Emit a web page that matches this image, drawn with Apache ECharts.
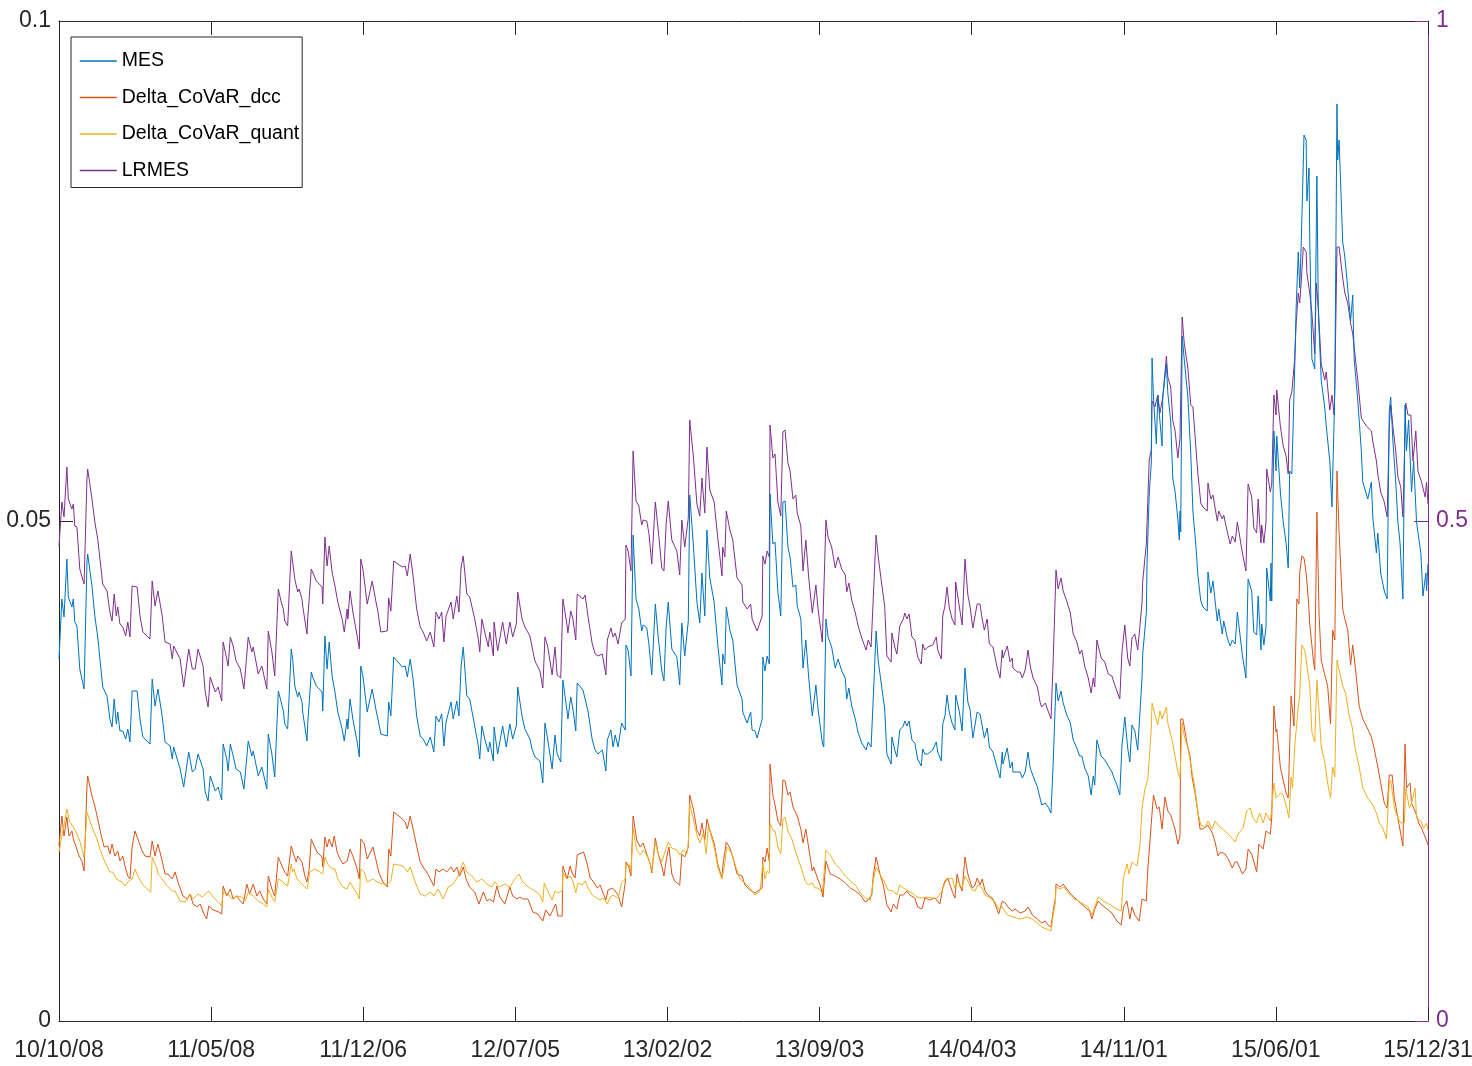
<!DOCTYPE html>
<html><head><meta charset="utf-8">
<script src="https://cdn.jsdelivr.net/npm/echarts@6/dist/echarts.min.js"></script>
<style>html,body{margin:0;padding:0;background:#fff}#chart{width:1472px;height:1066px}</style>
</head><body><div id="chart"></div>
<script>
// x values: calendar days since 2010-10-08; last day 2015-12-31
const spanDays = 1910;
const tickLabels = ['10/10/08','11/05/08','11/12/06','12/07/05','13/02/02','13/09/03','14/04/03','14/11/01','15/06/01','15/12/31'];
const seriesNames = ['MES','Delta_CoVaR_dcc','Delta_CoVaR_quant','LRMES'];

const mes = [[0,0.0362],[4,0.0422],[7,0.0404],[11,0.0462],[13,0.0424],[18,0.0414],[20,0.0422],[22,0.0399],[25,0.0395],[29,0.0352],[35,0.0332],[39,0.0459],[40,0.0467],[46,0.0435],[50,0.0405],[54,0.0384],[61,0.0334],[67,0.0325],[71,0.0302],[74,0.0294],[77,0.0322],[80,0.0297],[82,0.0309],[85,0.0290],[89,0.0290],[93,0.0282],[96,0.0292],[99,0.0279],[102,0.0330],[109,0.0330],[113,0.0302],[117,0.0284],[127,0.0277],[130,0.0342],[134,0.0315],[138,0.0332],[144,0.0305],[148,0.0279],[155,0.0275],[158,0.0262],[160,0.0274],[169,0.0252],[174,0.0234],[181,0.0269],[186,0.0249],[190,0.0252],[194,0.0267],[201,0.0252],[204,0.0229],[208,0.0220],[211,0.0245],[218,0.0230],[222,0.0234],[227,0.0221],[229,0.0277],[234,0.0262],[236,0.0250],[239,0.0277],[243,0.0265],[247,0.0252],[253,0.0249],[258,0.0232],[264,0.0280],[269,0.0265],[271,0.0270],[278,0.0245],[283,0.0254],[290,0.0232],[292,0.0287],[297,0.0267],[301,0.0244],[306,0.0330],[310,0.0319],[313,0.0310],[315,0.0297],[319,0.0292],[324,0.0372],[326,0.0362],
[329,0.0335],[333,0.0324],[335,0.0329],[339,0.0319],[340,0.0309],[346,0.0280],[347,0.0297],[352,0.0349],[354,0.0344],[359,0.0335],[367,0.0329],[368,0.0310],[371,0.0385],[374,0.0352],[377,0.0379],[381,0.0345],[385,0.0329],[389,0.0309],[395,0.0292],[398,0.0280],[402,0.0302],[403,0.0292],[406,0.0322],[410,0.0302],[416,0.0279],[419,0.0264],[421,0.0355],[424,0.0345],[430,0.0309],[437,0.0332],[442,0.0312],[445,0.0302],[449,0.0287],[458,0.0285],[460,0.0319],[463,0.0305],[467,0.0364],[479,0.0354],[483,0.0355],[486,0.0344],[490,0.0362],[494,0.0342],[499,0.0305],[504,0.0285],[508,0.0282],[513,0.0275],[518,0.0284],[523,0.0269],[526,0.0305],[530,0.0299],[534,0.0307],[537,0.0275],[540,0.0299],[547,0.0319],[550,0.0302],[555,0.0320],[558,0.0305],[561,0.0355],[564,0.0374],[569,0.0325],[573,0.0322],[580,0.0295],[585,0.0275],[587,0.0262],[590,0.0295],[594,0.0282],[599,0.0269],[601,0.0279],[606,0.0260],[607,0.0294],[612,0.0267],[619,0.0295],[624,0.0274],[629,0.0297],[633,0.0282],[638,0.0295],[640,0.0334],[646,0.0305],[650,0.0292],[657,0.0282],
[660,0.0272],[664,0.0264],[671,0.0260],[675,0.0238],[678,0.0298],[682,0.0281],[688,0.0252],[692,0.0286],[695,0.0267],[700,0.0259],[703,0.0341],[709,0.0309],[710,0.0302],[714,0.0324],[717,0.0312],[721,0.0290],[723,0.0338],[731,0.0331],[734,0.0322],[738,0.0310],[744,0.0281],[748,0.0271],[752,0.0267],[758,0.0271],[763,0.0250],[765,0.0281],[770,0.0291],[773,0.0274],[776,0.0286],[780,0.0274],[785,0.0298],[790,0.0291],[791,0.0376],[794,0.0371],[798,0.0345],[801,0.0486],[805,0.0422],[809,0.0412],[813,0.0390],[815,0.0396],[820,0.0393],[823,0.0377],[827,0.0346],[832,0.0417],[836,0.0384],[841,0.0350],[844,0.0340],[847,0.0393],[850,0.0419],[855,0.0372],[862,0.0364],[866,0.0336],[869,0.0398],[873,0.0365],[878,0.0400],[880,0.0526],[885,0.0477],[890,0.0419],[894,0.0398],[897,0.0448],[901,0.0405],[904,0.0491],[908,0.0443],[914,0.0419],[919,0.0377],[925,0.0336],[926,0.0367],[929,0.0357],[931,0.0414],[936,0.0391],[940,0.0381],[946,0.0336],[953,0.0322],[954,0.0309],[960,0.0298],[965,0.0309],[967,0.0291],[971,0.0290],[974,0.0283],[981,0.0302],[982,0.0364],[985,0.0350],
[988,0.0365],[991,0.0357],[992,0.0527],[996,0.0477],[999,0.0479],[1003,0.0429],[1007,0.0405],[1010,0.0519],[1013,0.0520],[1017,0.0474],[1020,0.0464],[1024,0.0434],[1028,0.0436],[1030,0.0415],[1035,0.0402],[1038,0.0353],[1042,0.0381],[1046,0.0343],[1051,0.0305],[1053,0.0303],[1056,0.0336],[1059,0.0312],[1065,0.0278],[1067,0.0274],[1070,0.0402],[1073,0.0384],[1078,0.0374],[1083,0.0353],[1087,0.0362],[1092,0.0350],[1097,0.0343],[1099,0.0322],[1102,0.0333],[1106,0.0315],[1111,0.0302],[1115,0.0288],[1120,0.0278],[1126,0.0271],[1129,0.0279],[1133,0.0274],[1136,0.0322],[1140,0.0390],[1143,0.0360],[1148,0.0333],[1152,0.0312],[1155,0.0267],[1161,0.0257],[1162,0.0284],[1166,0.0271],[1169,0.0264],[1173,0.0291],[1178,0.0295],[1180,0.0300],[1183,0.0295],[1186,0.0300],[1190,0.0281],[1194,0.0278],[1198,0.0262],[1203,0.0255],[1205,0.0272],[1208,0.0267],[1212,0.0267],[1219,0.0271],[1224,0.0279],[1226,0.0269],[1231,0.0260],[1233,0.0297],[1236,0.0305],[1239,0.0326],[1242,0.0309],[1246,0.0298],[1250,0.0291],[1251,0.0326],[1256,0.0310],[1260,0.0290],[1264,0.0353],[1268,0.0319],[1271,0.0312],[1275,0.0283],[1281,0.0309],[1285,0.0307],[1288,0.0295],[1291,0.0283],[1295,0.0293],[1298,0.0274],[1303,0.0269],[1309,0.0253],[1313,0.0243],
[1316,0.0269],[1317,0.0257],[1323,0.0273],[1327,0.0253],[1330,0.0259],[1331,0.0249],[1337,0.0249],[1341,0.0249],[1344,0.0243],[1348,0.0249],[1352,0.0269],[1355,0.0253],[1359,0.0245],[1365,0.0234],[1369,0.0222],[1371,0.0216],[1376,0.0218],[1380,0.0214],[1384,0.0208],[1387,0.0257],[1388,0.0255],[1391,0.0338],[1394,0.0320],[1398,0.0330],[1401,0.0318],[1406,0.0306],[1411,0.0298],[1415,0.0281],[1420,0.0273],[1424,0.0265],[1427,0.0265],[1431,0.0253],[1436,0.0245],[1440,0.0226],[1443,0.0245],[1445,0.0236],[1448,0.0281],[1454,0.0265],[1459,0.0261],[1464,0.0255],[1469,0.0249],[1472,0.0243],[1476,0.0236],[1480,0.0226],[1483,0.0275],[1487,0.0304],[1491,0.0273],[1494,0.0259],[1497,0.0296],[1501,0.0290],[1505,0.0271],[1511,0.0343],[1512,0.0367],[1517,0.0408],[1518,0.0457],[1519,0.0481],[1521,0.0526],[1524,0.0559],[1525,0.0663],[1527,0.0624],[1529,0.0600],[1531,0.0577],[1533,0.0626],[1536,0.0600],[1539,0.0575],[1540,0.0624],[1545,0.0657],[1547,0.0628],[1551,0.0600],[1554,0.0542],[1557,0.0530],[1561,0.0502],[1563,0.0481],[1564,0.0510],[1565,0.0489],[1567,0.0685],[1570,0.0661],[1575,0.0624],[1579,0.0567],[1582,0.0510],[1586,0.0477],[1589,0.0445],[1593,0.0420],[1596,0.0414],[1602,0.0410],[1603,0.0449],[1607,0.0428],[1610,0.0440],[1616,0.0400],[1618,0.0412],[1623,0.0387],[1625,0.0400],[1630,0.0383],[1634,0.0375],[1637,0.0381],[1641,0.0377],
[1644,0.0409],[1651,0.0366],[1656,0.0343],[1659,0.0442],[1664,0.0430],[1667,0.0389],[1671,0.0386],[1673,0.0425],[1677,0.0371],[1678,0.0397],[1681,0.0376],[1684,0.0394],[1685,0.0453],[1690,0.0420],[1691,0.0458],[1692,0.0420],[1695,0.0590],[1698,0.0550],[1699,0.0585],[1704,0.0529],[1708,0.0499],[1712,0.0478],[1715,0.0453],[1717,0.0550],[1720,0.0547],[1724,0.0652],[1726,0.0713],[1729,0.0769],[1731,0.0733],[1733,0.0774],[1737,0.0886],[1740,0.0881],[1741,0.0820],[1744,0.0853],[1745,0.0784],[1748,0.0662],[1752,0.0652],[1755,0.0845],[1757,0.0708],[1761,0.0641],[1766,0.0613],[1768,0.0595],[1773,0.0560],[1776,0.0514],[1779,0.0601],[1780,0.0631],[1783,0.0917],[1784,0.0861],[1786,0.0881],[1791,0.0779],[1794,0.0764],[1798,0.0733],[1802,0.0700],[1805,0.0726],[1807,0.0662],[1812,0.0621],[1817,0.0570],[1819,0.0539],[1826,0.0522],[1831,0.0539],[1833,0.0504],[1838,0.0468],[1840,0.0488],[1844,0.0448],[1849,0.0430],[1853,0.0422],[1856,0.0611],[1858,0.0624],[1861,0.0580],[1865,0.0539],[1868,0.0499],[1871,0.0478],[1875,0.0422],[1878,0.0616],[1880,0.0570],[1883,0.0601],[1887,0.0529],[1890,0.0560],[1894,0.0499],[1900,0.0468],[1903,0.0425],[1907,0.0448],[1908,0.0430],[1910,0.0457]];

const covarDcc = [[0,0.0175],[4,0.0205],[7,0.0185],[11,0.0204],[14,0.0185],[18,0.0190],[20,0.0182],[24,0.0174],[28,0.0165],[32,0.0160],[35,0.0150],[39,0.0235],[40,0.0245],[46,0.0225],[50,0.0215],[54,0.0202],[60,0.0182],[63,0.0174],[68,0.0175],[71,0.0167],[74,0.0177],[78,0.0165],[82,0.0170],[85,0.0160],[89,0.0165],[93,0.0152],[96,0.0145],[99,0.0142],[102,0.0174],[106,0.0190],[110,0.0182],[116,0.0170],[120,0.0165],[127,0.0164],[130,0.0180],[134,0.0165],[138,0.0177],[144,0.0160],[148,0.0147],[152,0.0147],[158,0.0142],[162,0.0149],[166,0.0139],[173,0.0125],[179,0.0122],[183,0.0127],[187,0.0117],[193,0.0114],[197,0.0117],[201,0.0109],[206,0.0102],[209,0.0115],[213,0.0112],[219,0.0110],[223,0.0109],[227,0.0107],[229,0.0135],[234,0.0125],[239,0.0132],[243,0.0122],[248,0.0125],[253,0.0120],[257,0.0117],[262,0.0137],[266,0.0127],[271,0.0137],[276,0.0125],[280,0.0130],[285,0.0122],[290,0.0117],[292,0.0145],[297,0.0132],[301,0.0125],[306,0.0164],[311,0.0155],[315,0.0149],[319,0.0145],[324,0.0175],[326,0.0170],
[331,0.0159],[333,0.0165],[339,0.0159],[343,0.0145],[346,0.0139],[349,0.0152],[352,0.0182],[356,0.0175],[360,0.0169],[367,0.0164],[368,0.0154],[371,0.0184],[374,0.0174],[377,0.0182],[381,0.0174],[384,0.0185],[388,0.0169],[392,0.0162],[396,0.0157],[402,0.0160],[406,0.0172],[410,0.0165],[416,0.0152],[419,0.0142],[421,0.0182],[426,0.0177],[430,0.0162],[438,0.0174],[442,0.0162],[446,0.0149],[452,0.0139],[458,0.0134],[460,0.0172],[463,0.0165],[467,0.0209],[476,0.0204],[483,0.0199],[486,0.0192],[490,0.0205],[494,0.0192],[499,0.0175],[504,0.0159],[508,0.0154],[513,0.0149],[518,0.0142],[523,0.0135],[526,0.0152],[530,0.0149],[536,0.0152],[541,0.0149],[547,0.0154],[551,0.0149],[555,0.0154],[559,0.0145],[564,0.0154],[568,0.0142],[573,0.0134],[580,0.0129],[586,0.0117],[592,0.0129],[597,0.0120],[601,0.0122],[606,0.0119],[611,0.0135],[615,0.0124],[622,0.0117],[629,0.0134],[633,0.0125],[639,0.0122],[643,0.0124],[647,0.0122],[654,0.0122],
[656,0.0119],[661,0.0109],[668,0.0107],[675,0.0100],[679,0.0111],[685,0.0105],[689,0.0111],[693,0.0117],[696,0.0105],[702,0.0105],[703,0.0155],[709,0.0142],[713,0.0155],[716,0.0148],[720,0.0143],[723,0.0166],[732,0.0169],[737,0.0157],[741,0.0143],[745,0.0140],[751,0.0133],[755,0.0136],[759,0.0128],[763,0.0121],[766,0.0131],[772,0.0133],[776,0.0130],[780,0.0126],[785,0.0114],[790,0.0138],[791,0.0159],[795,0.0154],[798,0.0145],[801,0.0205],[806,0.0181],[811,0.0174],[815,0.0178],[820,0.0167],[825,0.0157],[827,0.0148],[832,0.0183],[836,0.0167],[841,0.0155],[844,0.0145],[848,0.0164],[851,0.0174],[855,0.0147],[859,0.0140],[866,0.0136],[869,0.0167],[873,0.0164],[878,0.0174],[880,0.0226],[885,0.0212],[890,0.0191],[894,0.0185],[897,0.0198],[901,0.0181],[904,0.0202],[908,0.0191],[914,0.0178],[919,0.0157],[925,0.0143],[926,0.0154],[931,0.0179],[936,0.0173],[940,0.0164],[946,0.0147],[953,0.0145],[957,0.0136],[964,0.0131],[971,0.0128],[975,0.0130],[981,0.0133],[982,0.0164],[985,0.0159],
[988,0.0173],[991,0.0160],[992,0.0257],[996,0.0226],[999,0.0216],[1003,0.0200],[1007,0.0195],[1010,0.0241],[1013,0.0240],[1017,0.0226],[1020,0.0229],[1024,0.0214],[1030,0.0205],[1035,0.0192],[1038,0.0178],[1042,0.0192],[1046,0.0173],[1051,0.0150],[1053,0.0154],[1058,0.0143],[1062,0.0136],[1066,0.0124],[1070,0.0160],[1076,0.0147],[1083,0.0145],[1090,0.0142],[1097,0.0138],[1104,0.0133],[1111,0.0130],[1118,0.0126],[1125,0.0119],[1129,0.0121],[1134,0.0126],[1136,0.0145],[1140,0.0164],[1145,0.0148],[1150,0.0136],[1155,0.0116],[1161,0.0109],[1164,0.0117],[1169,0.0112],[1173,0.0126],[1178,0.0126],[1183,0.0130],[1187,0.0126],[1194,0.0123],[1198,0.0114],[1204,0.0112],[1208,0.0123],[1215,0.0121],[1222,0.0123],[1229,0.0117],[1233,0.0133],[1236,0.0140],[1240,0.0143],[1246,0.0130],[1250,0.0123],[1253,0.0147],[1257,0.0135],[1260,0.0130],[1264,0.0164],[1268,0.0147],[1274,0.0133],[1278,0.0136],[1281,0.0143],[1285,0.0136],[1288,0.0142],[1292,0.0130],[1296,0.0126],[1302,0.0123],[1306,0.0117],[1311,0.0107],
[1316,0.0120],[1320,0.0118],[1324,0.0114],[1330,0.0110],[1334,0.0112],[1341,0.0108],[1348,0.0110],[1352,0.0114],[1358,0.0106],[1365,0.0102],[1371,0.0098],[1376,0.0100],[1380,0.0096],[1384,0.0094],[1387,0.0110],[1390,0.0122],[1391,0.0137],[1397,0.0134],[1401,0.0137],[1406,0.0132],[1413,0.0126],[1422,0.0120],[1431,0.0114],[1438,0.0110],[1441,0.0102],[1445,0.0112],[1450,0.0120],[1455,0.0116],[1462,0.0112],[1469,0.0108],[1476,0.0100],[1482,0.0096],[1485,0.0114],[1490,0.0120],[1494,0.0102],[1497,0.0114],[1501,0.0106],[1507,0.0100],[1511,0.0122],[1517,0.0120],[1519,0.0151],[1522,0.0179],[1525,0.0208],[1527,0.0226],[1532,0.0212],[1535,0.0214],[1539,0.0192],[1543,0.0224],[1547,0.0210],[1551,0.0206],[1557,0.0192],[1561,0.0177],[1564,0.0185],[1565,0.0302],[1568,0.0302],[1574,0.0277],[1578,0.0265],[1581,0.0243],[1585,0.0228],[1589,0.0208],[1592,0.0192],[1596,0.0192],[1603,0.0196],[1609,0.0188],[1613,0.0179],[1617,0.0165],[1621,0.0169],[1627,0.0167],[1632,0.0161],[1637,0.0153],[1641,0.0159],
[1644,0.0159],[1651,0.0147],[1656,0.0152],[1659,0.0172],[1664,0.0167],[1671,0.0149],[1674,0.0177],[1680,0.0172],[1684,0.0190],[1690,0.0187],[1692,0.0203],[1695,0.0315],[1698,0.0289],[1699,0.0292],[1704,0.0254],[1707,0.0244],[1712,0.0228],[1715,0.0223],[1717,0.0274],[1719,0.0325],[1723,0.0295],[1726,0.0391],[1727,0.0422],[1730,0.0417],[1731,0.0448],[1734,0.0465],[1737,0.0463],[1740,0.0448],[1743,0.0422],[1745,0.0397],[1750,0.0361],[1752,0.0351],[1755,0.0509],[1758,0.0407],[1761,0.0361],[1766,0.0346],[1770,0.0335],[1774,0.0297],[1777,0.0391],[1780,0.0381],[1783,0.0550],[1786,0.0488],[1791,0.0412],[1794,0.0402],[1798,0.0391],[1802,0.0356],[1805,0.0376],[1809,0.0351],[1814,0.0315],[1819,0.0302],[1826,0.0292],[1831,0.0284],[1835,0.0272],[1840,0.0254],[1844,0.0238],[1849,0.0218],[1853,0.0213],[1856,0.0246],[1860,0.0246],[1863,0.0223],[1868,0.0203],[1872,0.0187],[1875,0.0175],[1878,0.0277],[1880,0.0233],[1885,0.0238],[1887,0.0218],[1893,0.0208],[1897,0.0198],[1901,0.0193],[1907,0.0182],[1910,0.0176]];

const covarQuant = [[0,0.0169],[4,0.0185],[8,0.0199],[11,0.0212],[15,0.0199],[20,0.0194],[25,0.0187],[29,0.0180],[35,0.0164],[39,0.0209],[40,0.0210],[46,0.0194],[53,0.0182],[57,0.0172],[64,0.0159],[71,0.0149],[75,0.0149],[80,0.0142],[82,0.0142],[88,0.0139],[92,0.0135],[96,0.0139],[102,0.0142],[106,0.0152],[110,0.0145],[116,0.0137],[123,0.0132],[128,0.0129],[130,0.0164],[137,0.0152],[138,0.0147],[144,0.0142],[151,0.0135],[158,0.0130],[162,0.0130],[169,0.0120],[176,0.0119],[183,0.0127],[187,0.0122],[194,0.0127],[200,0.0124],[204,0.0127],[209,0.0130],[215,0.0124],[222,0.0119],[227,0.0115],[229,0.0129],[236,0.0127],[241,0.0122],[248,0.0125],[255,0.0124],[260,0.0120],[264,0.0129],[271,0.0125],[278,0.0120],[285,0.0117],[290,0.0114],[292,0.0132],[297,0.0124],[301,0.0119],[306,0.0142],[311,0.0140],[315,0.0137],[319,0.0135],[324,0.0157],[326,0.0149],
[328,0.0152],[332,0.0142],[339,0.0137],[346,0.0132],[350,0.0149],[357,0.0152],[364,0.0149],[368,0.0147],[371,0.0164],[375,0.0157],[381,0.0152],[385,0.0152],[389,0.0142],[396,0.0134],[402,0.0132],[406,0.0139],[410,0.0134],[416,0.0127],[419,0.0122],[421,0.0152],[426,0.0149],[430,0.0139],[438,0.0142],[444,0.0139],[451,0.0137],[458,0.0137],[463,0.0140],[467,0.0157],[480,0.0155],[486,0.0149],[490,0.0154],[494,0.0145],[499,0.0135],[504,0.0127],[511,0.0125],[518,0.0129],[523,0.0125],[529,0.0132],[536,0.0122],[543,0.0134],[550,0.0137],[557,0.0145],[564,0.0159],[569,0.0149],[576,0.0145],[583,0.0139],[590,0.0142],[597,0.0137],[604,0.0134],[608,0.0139],[615,0.0134],[622,0.0137],[629,0.0134],[636,0.0142],[642,0.0147],[646,0.0140],[653,0.0135],
[657,0.0133],[664,0.0130],[671,0.0126],[675,0.0119],[677,0.0138],[682,0.0130],[688,0.0121],[692,0.0130],[696,0.0128],[702,0.0130],[703,0.0148],[709,0.0142],[713,0.0145],[717,0.0140],[721,0.0128],[724,0.0138],[730,0.0136],[734,0.0140],[738,0.0133],[744,0.0126],[748,0.0124],[755,0.0121],[759,0.0123],[765,0.0117],[769,0.0124],[773,0.0126],[780,0.0123],[785,0.0138],[790,0.0142],[791,0.0157],[795,0.0157],[798,0.0150],[801,0.0193],[806,0.0171],[811,0.0166],[815,0.0171],[820,0.0166],[825,0.0157],[827,0.0150],[832,0.0179],[836,0.0167],[841,0.0159],[844,0.0166],[850,0.0179],[855,0.0173],[862,0.0171],[866,0.0166],[871,0.0171],[876,0.0167],[878,0.0178],[880,0.0217],[885,0.0202],[890,0.0186],[894,0.0178],[899,0.0188],[903,0.0167],[906,0.0195],[910,0.0185],[915,0.0171],[919,0.0154],[925,0.0142],[928,0.0154],[932,0.0174],[939,0.0167],[943,0.0157],[950,0.0142],[957,0.0138],[964,0.0133],[971,0.0126],[978,0.0130],[982,0.0157],[985,0.0142],
[988,0.0150],[991,0.0148],[992,0.0198],[996,0.0191],[999,0.0190],[1003,0.0174],[1007,0.0167],[1010,0.0202],[1013,0.0204],[1017,0.0190],[1023,0.0181],[1027,0.0171],[1031,0.0162],[1037,0.0150],[1041,0.0140],[1045,0.0136],[1051,0.0138],[1055,0.0133],[1059,0.0133],[1065,0.0128],[1067,0.0130],[1070,0.0171],[1076,0.0166],[1083,0.0157],[1090,0.0152],[1097,0.0145],[1104,0.0140],[1111,0.0136],[1118,0.0128],[1125,0.0123],[1132,0.0121],[1136,0.0140],[1140,0.0154],[1145,0.0147],[1151,0.0140],[1157,0.0131],[1164,0.0130],[1169,0.0126],[1173,0.0136],[1178,0.0133],[1183,0.0131],[1190,0.0128],[1197,0.0124],[1204,0.0123],[1211,0.0124],[1218,0.0123],[1225,0.0123],[1232,0.0130],[1236,0.0138],[1240,0.0142],[1246,0.0143],[1250,0.0133],[1254,0.0140],[1260,0.0133],[1264,0.0145],[1268,0.0140],[1274,0.0131],[1278,0.0130],[1282,0.0136],[1288,0.0133],[1292,0.0126],[1299,0.0123],[1306,0.0119],[1311,0.0112],
[1316,0.0114],[1323,0.0106],[1331,0.0104],[1341,0.0102],[1351,0.0104],[1358,0.0102],[1365,0.0098],[1371,0.0094],[1378,0.0092],[1384,0.0090],[1387,0.0106],[1390,0.0118],[1391,0.0134],[1397,0.0132],[1402,0.0134],[1408,0.0128],[1417,0.0122],[1427,0.0118],[1436,0.0114],[1441,0.0106],[1445,0.0114],[1450,0.0124],[1457,0.0120],[1467,0.0116],[1476,0.0112],[1482,0.0110],[1485,0.0143],[1490,0.0157],[1493,0.0147],[1497,0.0159],[1504,0.0155],[1508,0.0175],[1511,0.0212],[1515,0.0232],[1519,0.0241],[1521,0.0261],[1524,0.0294],[1525,0.0318],[1529,0.0306],[1533,0.0296],[1536,0.0310],[1539,0.0302],[1545,0.0314],[1547,0.0298],[1553,0.0281],[1557,0.0265],[1561,0.0249],[1564,0.0243],[1567,0.0298],[1570,0.0285],[1575,0.0273],[1581,0.0249],[1585,0.0232],[1589,0.0208],[1593,0.0196],[1599,0.0194],[1603,0.0200],[1609,0.0192],[1613,0.0200],[1617,0.0196],[1623,0.0192],[1630,0.0188],[1635,0.0184],[1641,0.0179],
[1645,0.0187],[1652,0.0193],[1657,0.0210],[1662,0.0213],[1666,0.0203],[1671,0.0198],[1675,0.0208],[1680,0.0198],[1684,0.0208],[1690,0.0200],[1692,0.0213],[1695,0.0238],[1698,0.0223],[1704,0.0228],[1708,0.0226],[1712,0.0216],[1716,0.0203],[1719,0.0244],[1721,0.0233],[1724,0.0274],[1729,0.0315],[1731,0.0325],[1734,0.0376],[1738,0.0371],[1741,0.0356],[1745,0.0335],[1748,0.0289],[1752,0.0279],[1755,0.0341],[1758,0.0310],[1761,0.0274],[1766,0.0259],[1770,0.0238],[1774,0.0223],[1777,0.0254],[1780,0.0244],[1783,0.0361],[1786,0.0351],[1791,0.0335],[1795,0.0328],[1800,0.0305],[1804,0.0295],[1808,0.0274],[1814,0.0254],[1819,0.0233],[1826,0.0223],[1833,0.0216],[1838,0.0208],[1842,0.0198],[1847,0.0193],[1852,0.0182],[1856,0.0238],[1858,0.0241],[1863,0.0213],[1868,0.0203],[1872,0.0198],[1877,0.0198],[1879,0.0233],[1884,0.0213],[1887,0.0218],[1892,0.0233],[1894,0.0203],[1900,0.0200],[1904,0.0193],[1908,0.0198],[1910,0.0190]];

const lrmes = [[0,0.475],[4,0.519],[7,0.504],[11,0.554],[13,0.522],[18,0.512],[20,0.517],[22,0.495],[25,0.494],[29,0.452],[35,0.437],[39,0.542],[40,0.552],[46,0.522],[50,0.499],[54,0.482],[61,0.437],[67,0.430],[71,0.409],[74,0.400],[77,0.427],[80,0.405],[82,0.414],[85,0.397],[89,0.394],[93,0.385],[96,0.399],[99,0.384],[102,0.435],[109,0.434],[113,0.405],[117,0.389],[127,0.382],[130,0.440],[134,0.415],[138,0.430],[144,0.405],[148,0.379],[155,0.377],[158,0.362],[160,0.375],[169,0.362],[174,0.334],[181,0.372],[186,0.352],[190,0.352],[194,0.372],[201,0.355],[204,0.329],[208,0.314],[211,0.344],[218,0.329],[222,0.334],[227,0.320],[229,0.379],[234,0.362],[236,0.355],[239,0.384],[243,0.375],[247,0.360],[253,0.352],[258,0.332],[264,0.384],[269,0.369],[271,0.374],[278,0.347],[283,0.355],[290,0.332],[292,0.390],[297,0.369],[301,0.345],[306,0.432],[310,0.419],[313,0.412],[315,0.400],[319,0.395],[324,0.470],[326,0.459],
[329,0.442],[333,0.429],[335,0.432],[339,0.422],[340,0.415],[346,0.387],[347,0.402],[352,0.452],[354,0.454],[359,0.440],[367,0.434],[368,0.417],[371,0.484],[374,0.455],[377,0.475],[381,0.449],[385,0.435],[389,0.419],[395,0.402],[398,0.389],[402,0.412],[403,0.402],[406,0.430],[410,0.409],[416,0.385],[419,0.372],[421,0.462],[424,0.452],[430,0.417],[437,0.440],[442,0.420],[445,0.409],[449,0.389],[458,0.390],[460,0.423],[463,0.410],[467,0.460],[479,0.454],[483,0.455],[486,0.445],[490,0.467],[494,0.445],[499,0.412],[504,0.394],[508,0.389],[513,0.380],[518,0.389],[523,0.374],[526,0.409],[530,0.402],[534,0.409],[537,0.379],[540,0.405],[547,0.419],[550,0.402],[555,0.425],[558,0.409],[561,0.454],[564,0.465],[569,0.427],[573,0.424],[580,0.402],[585,0.382],[587,0.369],[590,0.402],[594,0.389],[599,0.374],[601,0.389],[606,0.365],[607,0.399],[612,0.370],[619,0.399],[624,0.377],[629,0.399],[633,0.384],[638,0.397],[640,0.429],[646,0.402],[650,0.394],[657,0.385],
[660,0.374],[664,0.360],[671,0.350],[675,0.333],[678,0.384],[682,0.374],[688,0.346],[692,0.374],[695,0.346],[700,0.343],[703,0.422],[709,0.395],[710,0.388],[714,0.410],[717,0.402],[721,0.381],[723,0.427],[731,0.422],[734,0.426],[738,0.405],[744,0.377],[748,0.367],[752,0.365],[758,0.367],[763,0.346],[765,0.381],[770,0.393],[773,0.384],[776,0.388],[780,0.377],[785,0.398],[790,0.402],[791,0.476],[794,0.470],[798,0.450],[801,0.570],[805,0.520],[809,0.515],[813,0.496],[815,0.501],[820,0.500],[823,0.488],[827,0.457],[832,0.519],[836,0.491],[841,0.453],[844,0.450],[847,0.496],[850,0.520],[855,0.481],[862,0.470],[866,0.446],[869,0.501],[873,0.474],[878,0.503],[880,0.601],[885,0.565],[890,0.517],[894,0.505],[897,0.543],[901,0.508],[904,0.574],[908,0.531],[914,0.519],[919,0.484],[925,0.445],[926,0.474],[929,0.464],[931,0.510],[936,0.491],[940,0.481],[946,0.443],[953,0.436],[954,0.419],[960,0.412],[965,0.417],[967,0.402],[971,0.395],[974,0.390],[981,0.405],[982,0.465],[985,0.457],
[988,0.470],[991,0.464],[992,0.596],[996,0.563],[999,0.567],[1003,0.519],[1007,0.505],[1010,0.589],[1013,0.591],[1017,0.558],[1020,0.550],[1024,0.522],[1028,0.526],[1030,0.508],[1035,0.495],[1038,0.450],[1042,0.481],[1046,0.443],[1051,0.408],[1053,0.407],[1056,0.436],[1059,0.412],[1065,0.379],[1067,0.381],[1070,0.501],[1073,0.484],[1078,0.474],[1083,0.453],[1087,0.464],[1092,0.452],[1097,0.446],[1099,0.429],[1102,0.438],[1106,0.421],[1111,0.408],[1115,0.395],[1120,0.383],[1126,0.371],[1129,0.381],[1133,0.374],[1136,0.422],[1140,0.486],[1143,0.464],[1148,0.436],[1152,0.415],[1155,0.365],[1161,0.359],[1162,0.388],[1166,0.374],[1169,0.367],[1173,0.395],[1178,0.402],[1180,0.408],[1183,0.402],[1186,0.407],[1190,0.384],[1194,0.381],[1198,0.364],[1203,0.357],[1205,0.377],[1208,0.371],[1212,0.374],[1219,0.376],[1224,0.384],[1226,0.371],[1231,0.362],[1233,0.405],[1236,0.415],[1239,0.434],[1242,0.414],[1246,0.402],[1250,0.396],[1251,0.439],[1256,0.415],[1260,0.396],[1264,0.462],[1268,0.426],[1271,0.415],[1275,0.393],[1281,0.417],[1285,0.417],[1288,0.402],[1291,0.391],[1295,0.402],[1298,0.377],[1303,0.374],[1309,0.353],[1313,0.343],
[1316,0.371],[1317,0.363],[1323,0.375],[1327,0.359],[1330,0.363],[1331,0.353],[1337,0.349],[1341,0.349],[1344,0.343],[1348,0.351],[1352,0.371],[1355,0.355],[1359,0.343],[1365,0.334],[1369,0.318],[1371,0.314],[1376,0.318],[1380,0.310],[1384,0.302],[1387,0.359],[1388,0.359],[1391,0.451],[1394,0.432],[1398,0.443],[1401,0.430],[1406,0.420],[1411,0.408],[1415,0.387],[1420,0.379],[1424,0.367],[1427,0.371],[1431,0.355],[1436,0.343],[1440,0.328],[1443,0.343],[1445,0.334],[1448,0.381],[1454,0.363],[1459,0.359],[1464,0.347],[1469,0.345],[1472,0.338],[1476,0.330],[1480,0.322],[1483,0.369],[1487,0.396],[1491,0.363],[1494,0.355],[1497,0.383],[1501,0.387],[1505,0.371],[1511,0.418],[1512,0.440],[1517,0.477],[1519,0.518],[1521,0.561],[1524,0.571],[1525,0.620],[1529,0.614],[1533,0.626],[1536,0.608],[1540,0.624],[1545,0.665],[1547,0.644],[1551,0.634],[1554,0.600],[1557,0.591],[1561,0.563],[1564,0.583],[1567,0.704],[1570,0.677],[1575,0.653],[1579,0.616],[1582,0.614],[1586,0.575],[1589,0.547],[1593,0.518],[1596,0.514],[1602,0.510],[1603,0.538],[1607,0.522],[1610,0.526],[1616,0.500],[1618,0.510],[1623,0.502],[1625,0.506],[1630,0.489],[1634,0.477],[1637,0.485],[1641,0.479],
[1644,0.499],[1651,0.468],[1656,0.450],[1659,0.537],[1664,0.524],[1667,0.493],[1671,0.488],[1673,0.522],[1677,0.478],[1678,0.496],[1681,0.478],[1684,0.499],[1685,0.552],[1690,0.529],[1692,0.537],[1695,0.626],[1698,0.606],[1699,0.631],[1704,0.595],[1708,0.575],[1712,0.565],[1715,0.547],[1717,0.621],[1720,0.629],[1724,0.662],[1726,0.697],[1729,0.728],[1731,0.718],[1733,0.738],[1736,0.774],[1740,0.769],[1741,0.748],[1745,0.728],[1748,0.708],[1752,0.667],[1754,0.738],[1757,0.713],[1761,0.657],[1766,0.641],[1768,0.649],[1773,0.611],[1776,0.626],[1779,0.606],[1780,0.636],[1783,0.774],[1786,0.774],[1791,0.743],[1794,0.728],[1798,0.718],[1802,0.698],[1805,0.687],[1808,0.667],[1812,0.641],[1817,0.603],[1824,0.595],[1831,0.590],[1833,0.580],[1838,0.560],[1840,0.547],[1844,0.529],[1849,0.519],[1853,0.504],[1856,0.595],[1858,0.616],[1861,0.595],[1865,0.570],[1868,0.544],[1872,0.534],[1875,0.504],[1879,0.618],[1882,0.606],[1886,0.606],[1889,0.560],[1893,0.590],[1896,0.550],[1901,0.539],[1906,0.524],[1908,0.539],[1910,0.517]];

const colors = ['#0072BD', '#D95319', '#EDB120', '#7E2F8E'];
const axisColor = '#262626';
const fontFamily = "'Liberation Sans',Arial,Helvetica,sans-serif";
const tickDays = tickLabels.map((_, i) => i * spanDays / (tickLabels.length - 1));

const chart = echarts.init(document.getElementById('chart'), null, {renderer: 'canvas'});
const fmtNum = v => (Math.abs(v) < 1e-9 ? '0' : String(parseFloat(v.toFixed(4))));

chart.setOption({
  animation: false,
  backgroundColor: '#ffffff',
  grid: {left: 59, right: 44, top: 21, bottom: 45, containLabel: false, outerBoundsMode: 'none'},
  legend: {
    orient: 'vertical', left: 71, top: 37,
    data: seriesNames.map((n, i) => ({name: n, itemStyle: {opacity: 0, borderWidth: 0}, lineStyle: {color: colors[i], width: 1.5, opacity: 1}})),
    itemWidth: 37, itemHeight: 10, itemGap: 10.5,
    padding: [11, 3, 4, 8],
    borderColor: axisColor, borderWidth: 1, borderRadius: 0, backgroundColor: '#fff',
    textStyle: {fontSize: 19.5, lineHeight: 26, fontFamily, color: '#000'}
  },
  xAxis: [{
    type: 'value', min: 0, max: spanDays, position: 'bottom',
    axisLine: {show: true, onZero: false, lineStyle: {color: axisColor, width: 1}},
    axisTick: {show: true, inside: true, length: 14, customValues: tickDays, lineStyle: {color: axisColor}},
    axisLabel: {customValues: tickDays, showMinLabel: true, showMaxLabel: true, hideOverlap: false,
      formatter: v => tickLabels[Math.round(v * (tickLabels.length - 1) / spanDays)],
      fontSize: 23, fontFamily, color: axisColor, margin: 18},
    splitLine: {show: false}
  }, {
    type: 'value', min: 0, max: spanDays, position: 'top',
    axisLine: {show: true, onZero: false, lineStyle: {color: axisColor, width: 1}},
    axisTick: {show: true, inside: true, length: 14, customValues: tickDays, lineStyle: {color: axisColor}},
    axisLabel: {show: false}, splitLine: {show: false}
  }],
  yAxis: [{
    type: 'value', min: 0, max: 0.1, interval: 0.05, position: 'left',
    axisLine: {show: true, onZero: false, lineStyle: {color: axisColor, width: 1}},
    axisTick: {show: true, inside: true, length: 14, lineStyle: {color: axisColor}},
    axisLabel: {formatter: fmtNum, fontSize: 23, fontFamily, color: axisColor, margin: 8},
    splitLine: {show: false}
  }, {
    type: 'value', min: 0, max: 1, interval: 0.5, position: 'right',
    axisLine: {show: true, onZero: false, lineStyle: {color: colors[3], width: 1}},
    axisTick: {show: true, inside: true, length: 14, lineStyle: {color: colors[3]}},
    axisLabel: {formatter: fmtNum, fontSize: 23, fontFamily, color: colors[3], margin: 8},
    splitLine: {show: false}
  }],
  series: [
    {name: seriesNames[0], type: 'line', data: mes, yAxisIndex: 0},
    {name: seriesNames[1], type: 'line', data: covarDcc, yAxisIndex: 0},
    {name: seriesNames[2], type: 'line', data: covarQuant, yAxisIndex: 0},
    {name: seriesNames[3], type: 'line', data: lrmes, yAxisIndex: 1}
  ].map((s, i) => Object.assign(s, {
    showSymbol: false, symbol: 'none', color: colors[i],
    itemStyle: {color: colors[i]},
    lineStyle: {width: 1, color: colors[i]}, z: 2 + (i === 3 ? 0 : 1),
    emphasis: {disabled: true}
  }))
});
</script></body></html>
